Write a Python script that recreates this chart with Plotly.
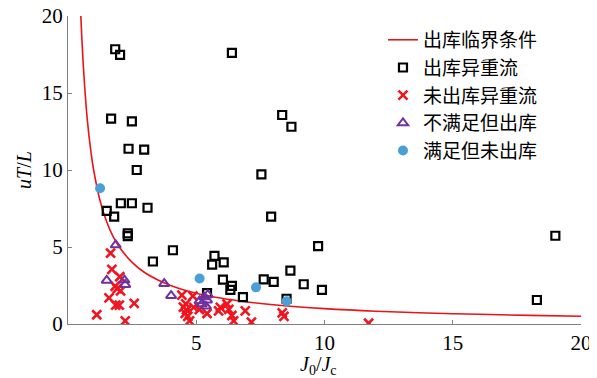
import plotly.graph_objects as go

# critical curve
curve_x = [0.5, 0.6, 0.75, 0.9, 1.0, 1.25, 1.5, 1.75, 2.0, 2.5, 3.0, 4.0, 5.0, 6.0, 7.0, 8.0, 10.0, 12.0, 15.0, 18.0, 20.0]
curve_y = [20.0, 16.7, 13.3, 11.1, 10.0, 8.0, 6.67, 5.71, 5.0, 4.0, 3.33, 2.5, 2.0, 1.67, 1.43, 1.25, 1.0, 0.83, 0.67, 0.56, 0.5]

# 出库异重流
sq_x = [1.84, 2.03, 6.39, 1.68, 2.49, 8.35, 8.71, 2.36, 2.97, 2.68, 2.06, 2.49, 3.10, 1.51, 1.80,
        2.33, 2.33, 4.09, 3.31, 5.71, 6.07, 5.62, 6.04, 6.39, 6.33, 6.82, 5.42, 7.63, 8.02, 7.92,
        8.67, 8.52, 7.54, 9.75, 9.19, 9.90, 18.28, 19.0]
sq_y = [17.84, 17.47, 17.6, 13.33, 13.16, 13.57, 12.81, 11.38, 11.32, 10.0, 7.84, 7.84, 7.55, 7.35, 6.97,
        5.89, 5.71, 4.79, 4.06, 4.43, 4.0, 3.86, 2.88, 2.47, 2.21, 1.75, 2.0, 2.9, 2.74, 6.97,
        3.47, 1.64, 9.72, 5.06, 2.58, 2.21, 1.56, 5.73]

# 未出库异重流
cr_x = [1.12, 1.66, 1.71, 2.02, 1.84, 1.92, 2.05, 1.6, 1.86, 2.0, 2.58, 2.23,
        4.44, 4.87, 4.59, 4.5, 4.62, 4.57, 4.67, 4.74, 4.9, 5.12, 5.42, 5.87, 5.94,
        6.2, 6.27, 6.39, 6.46, 6.91, 7.15, 8.35, 8.42, 11.72]
cr_y = [0.6, 4.6, 3.55, 3.07, 2.45, 2.3, 2.15, 1.7, 1.23, 1.23, 1.34, 0.2,
        1.88, 1.82, 1.31, 1.1, 0.92, 0.69, 0.5, 0.2, 1.08, 0.94, 0.68, 0.85, 1.08,
        1.3, 0.95, 0.55, 0.2, 0.85, 0.12, 0.72, 0.5, 0.05]

# 不满足但出库
tr_x = [1.86, 1.51, 2.2, 2.23, 3.75, 4.02, 5.13, 5.31, 5.42, 5.38, 5.22, 5.45]
tr_y = [5.13, 2.83, 2.85, 2.55, 2.62, 1.84, 1.5, 1.75, 1.55, 1.15, 1.3, 1.9]

# 满足但未出库
dot_x = [1.25, 5.13, 7.33, 8.52]
dot_y = [8.81, 2.96, 2.38, 1.48]

x_ticks = [5, 10, 15, 20]
y_ticks = [0, 5, 10, 15, 20]

fig = go.Figure()
fig.add_trace(go.Scatter(x=curve_x, y=curve_y, mode="lines", name="出库临界条件",
                         line=dict(color="#E8141B", width=1.6, shape="spline")))
fig.add_trace(go.Scatter(x=sq_x, y=sq_y, mode="markers", name="出库异重流",
                         marker=dict(symbol="square-open", size=8, color="black", line=dict(width=2.2))))
fig.add_trace(go.Scatter(x=cr_x, y=cr_y, mode="markers", name="未出库异重流",
                         marker=dict(symbol="x-thin-open", size=9, color="#F0141E", line=dict(width=2.6))))
fig.add_trace(go.Scatter(x=tr_x, y=tr_y, mode="markers", name="不满足但出库",
                         marker=dict(symbol="triangle-up-open", size=9, color="#7030A0", line=dict(width=2))))
fig.add_trace(go.Scatter(x=dot_x, y=dot_y, mode="markers", name="满足但未出库",
                         marker=dict(symbol="circle", size=10, color="#4A9FD6")))

axis_common = dict(showgrid=False, zeroline=False, showline=True, linecolor="#808080", linewidth=1.3,
                   ticks="inside", ticklen=4, tickcolor="#808080", automargin=False,
                   ticklabeloverflow="allow",
                   tickfont=dict(family="Liberation Serif", size=21, color="black"))
fig.update_xaxes(range=[0, 20], tickvals=x_ticks, **axis_common)
fig.update_yaxes(range=[0, 20], tickvals=y_ticks, **axis_common)

title_font = dict(family="Liberation Serif", size=20, color="black")
fig.add_annotation(text="<i>J</i><sub>0</sub>/<i>J</i><sub>c</sub>", xref="paper", yref="paper",
                   x=0.489, y=-0.136, xanchor="center", yanchor="middle", showarrow=False, font=title_font)
fig.add_annotation(text="<i>uT</i>/<i>L</i>", xref="paper", yref="paper", textangle=-90,
                   x=-0.086, y=0.5, xanchor="center", yanchor="middle", showarrow=False, font=title_font)

# page body has an 8px margin, so the figure is sized to fit the 597x378 window
fig.update_layout(
    width=589, height=370,
    margin=dict(l=60, r=16, t=8, b=54),
    plot_bgcolor="white", paper_bgcolor="white",
    showlegend=True,
    legend=dict(x=0.614, y=0.984, xanchor="left", yanchor="top",
                font=dict(family="Liberation Serif, Noto Sans CJK SC", size=19, color="black"),
                bgcolor="rgba(0,0,0,0)", itemwidth=30, tracegroupgap=0),
)
fig.write_html("out.html")
